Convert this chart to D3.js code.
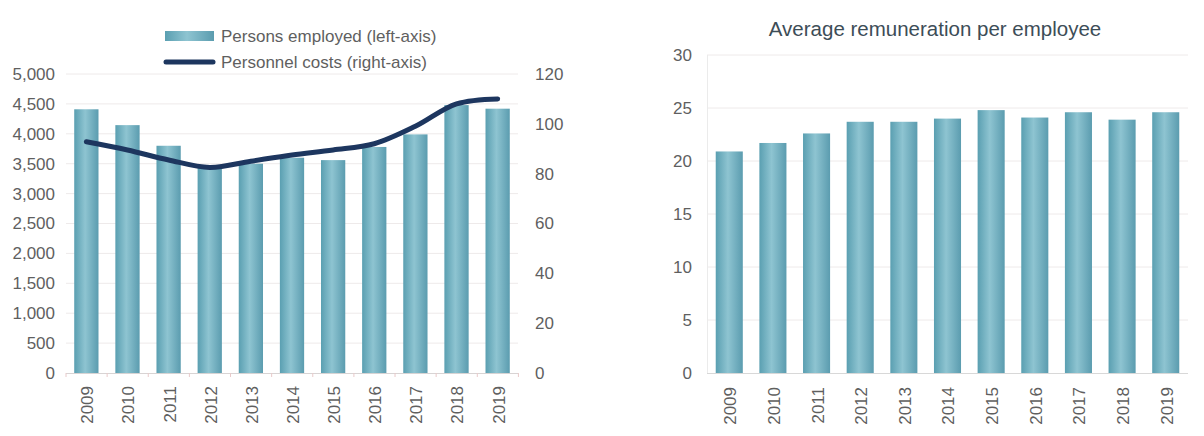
<!DOCTYPE html>
<html>
<head>
<meta charset="utf-8">
<script src="https://cdn.jsdelivr.net/npm/d3@7"></script>
<style>
  html, body { margin: 0; padding: 0; background: #ffffff; }
  svg { display: block; }
  text { font-family: "Liberation Sans", Arial, sans-serif; }
</style>
</head>
<body>
<svg id="chart" width="1204" height="436"></svg>
<script>
// Years shown on both panels
const years = ["2009","2010","2011","2012","2013","2014","2015","2016","2017","2018","2019"];
// Persons employed (left axis)
const personsEmployed = [4410, 4145, 3800, 3430, 3500, 3600, 3560, 3780, 3990, 4480, 4420];
// Personnel costs (right axis)
const personnelCosts = [92.8, 89.5, 85.5, 82.5, 85, 87.5, 89.5, 92, 99, 108, 110];
// Average remuneration per employee
const avgRemuneration = [20.9, 21.7, 22.6, 23.7, 23.7, 24.0, 24.8, 24.1, 24.6, 23.9, 24.6];
// Tick values
const leftTicks = [0, 500, 1000, 1500, 2000, 2500, 3000, 3500, 4000, 4500, 5000];
const rightTicks = [0, 20, 40, 60, 80, 100, 120];
const remTicks = [0, 5, 10, 15, 20, 25, 30];

const svg = d3.select("#chart");
const tickColor = "#5f5f5f";
const gridColor = "#eeeaea";
const lineColor = "#1d365f";

// Bar gradient: darker edges, lighter centre
const defs = svg.append("defs");
const grad = defs.append("linearGradient").attr("id", "barGrad")
  .attr("x1", "0%").attr("x2", "100%").attr("y1", "0%").attr("y2", "0%");
grad.append("stop").attr("offset", "0%").attr("stop-color", "#5a9fb1");
grad.append("stop").attr("offset", "45%").attr("stop-color", "#8ec4d1");
grad.append("stop").attr("offset", "100%").attr("stop-color", "#5b9caf");

function yearLabels(g, x, yTop) {
  g.selectAll("text.year").data(years).join("text")
    .attr("class", "year")
    .attr("transform", d => `translate(${x(d) + x.bandwidth() / 2 + 1},${yTop}) rotate(-90)`)
    .attr("text-anchor", "end")
    .attr("dy", "0.35em")
    .attr("font-size", 17)
    .attr("fill", tickColor)
    .text(d => d);
}

// ---------- Left panel: persons employed & personnel costs ----------
{
  const g = svg.append("g");
  const x = d3.scaleBand().domain(years).range([66, 518]).paddingInner(0.41).paddingOuter(0.2);
  const yL = d3.scaleLinear().domain([0, 5000]).range([373, 74]);
  const yR = d3.scaleLinear().domain([0, 120]).range([373, 74]);

  // gridlines
  g.append("g").selectAll("line").data(leftTicks.slice(1)).join("line")
    .attr("x1", 66).attr("x2", 518)
    .attr("y1", d => yL(d)).attr("y2", d => yL(d))
    .attr("stroke", gridColor).attr("stroke-width", 1);

  // left axis
  const axL = g.append("g").attr("transform", "translate(58,0)")
    .call(d3.axisLeft(yL).tickValues(leftTicks).tickSize(0).tickPadding(3).tickFormat(d3.format(",")));
  axL.select(".domain").remove();
  axL.selectAll("text").attr("font-size", 17).attr("fill", tickColor)
    .style("font-family", "Liberation Sans, Arial, sans-serif");

  // right axis
  const axR = g.append("g").attr("transform", "translate(534,0)")
    .call(d3.axisRight(yR).tickValues(rightTicks).tickSize(0).tickPadding(1));
  axR.select(".domain").remove();
  axR.selectAll("text").attr("font-size", 17).attr("fill", tickColor)
    .style("font-family", "Liberation Sans, Arial, sans-serif");

  // bars
  g.append("g").selectAll("rect").data(years).join("rect")
    .attr("x", d => x(d)).attr("width", x.bandwidth())
    .attr("y", (d, i) => yL(personsEmployed[i]))
    .attr("height", (d, i) => yL(0) - yL(personsEmployed[i]))
    .attr("fill", "url(#barGrad)");

  // baseline with small category separators
  g.append("line").attr("x1", 66).attr("x2", 518).attr("y1", 373.5).attr("y2", 373.5)
    .attr("stroke", "#d8d4d4").attr("stroke-width", 1);
  const step = x.step();
  g.append("g").selectAll("line").data(d3.range(years.length + 1)).join("line")
    .attr("x1", i => x(years[0]) - x.paddingOuter() * step + i * step - (x.bandwidth() * 0) - step * x.paddingInner() / 2 + step * x.paddingInner() / 2)
    .attr("x2", i => x(years[0]) - x.paddingOuter() * step + i * step)
    .attr("y1", 373).attr("y2", 377)
    .attr("stroke", "#e8caca").attr("stroke-width", 1);

  // personnel costs line
  const line = d3.line()
    .x((d, i) => x(years[i]) + x.bandwidth() / 2)
    .y(d => yR(d))
    .curve(d3.curveCatmullRom.alpha(0.5));
  g.append("path").datum(personnelCosts)
    .attr("d", line)
    .attr("fill", "none").attr("stroke", lineColor).attr("stroke-width", 5)
    .attr("stroke-linecap", "round");

  yearLabels(g, x, 386);

  // legend
  const lg = g.append("g");
  lg.append("rect").attr("x", 165).attr("y", 31).attr("width", 49).attr("height", 10)
    .attr("fill", "url(#barGrad)");
  lg.append("text").attr("x", 221).attr("y", 36).attr("dy", "0.35em")
    .attr("font-size", 17).attr("fill", tickColor).text("Persons employed (left-axis)");
  lg.append("line").attr("x1", 166).attr("x2", 213).attr("y1", 62).attr("y2", 62)
    .attr("stroke", lineColor).attr("stroke-width", 5).attr("stroke-linecap", "round");
  lg.append("text").attr("x", 221).attr("y", 62).attr("dy", "0.35em")
    .attr("font-size", 17).attr("fill", tickColor).text("Personnel costs (right-axis)");
}

// ---------- Right panel: average remuneration per employee ----------
{
  const g = svg.append("g");
  const x = d3.scaleBand().domain(years).range([707, 1188]).paddingInner(0.38).paddingOuter(0.2);
  const y = d3.scaleLinear().domain([0, 30]).range([373, 55]);

  g.append("g").selectAll("line").data(remTicks.slice(1)).join("line")
    .attr("x1", 707).attr("x2", 1188)
    .attr("y1", d => y(d)).attr("y2", d => y(d))
    .attr("stroke", gridColor).attr("stroke-width", 1);

  g.append("line").attr("x1", 707.5).attr("x2", 707.5).attr("y1", 55).attr("y2", 373)
    .attr("stroke", "#ebebeb").attr("stroke-width", 1);

  const ax = g.append("g").attr("transform", "translate(697,0)")
    .call(d3.axisLeft(y).tickValues(remTicks).tickSize(0).tickPadding(5));
  ax.select(".domain").remove();
  ax.selectAll("text").attr("font-size", 17).attr("fill", tickColor)
    .style("font-family", "Liberation Sans, Arial, sans-serif");

  g.append("g").selectAll("rect").data(years).join("rect")
    .attr("x", d => x(d)).attr("width", x.bandwidth())
    .attr("y", (d, i) => y(avgRemuneration[i]))
    .attr("height", (d, i) => y(0) - y(avgRemuneration[i]))
    .attr("fill", "url(#barGrad)");

  g.append("line").attr("x1", 707).attr("x2", 1188).attr("y1", 373.5).attr("y2", 373.5)
    .attr("stroke", "#d8d8d8").attr("stroke-width", 1);

  yearLabels(g, x, 387);

  g.append("text").attr("x", 935).attr("y", 29).attr("dy", "0.35em")
    .attr("text-anchor", "middle").attr("font-size", 20.5).attr("fill", "#3d4d57")
    .text("Average remuneration per employee");
}
</script>
</body>
</html>
